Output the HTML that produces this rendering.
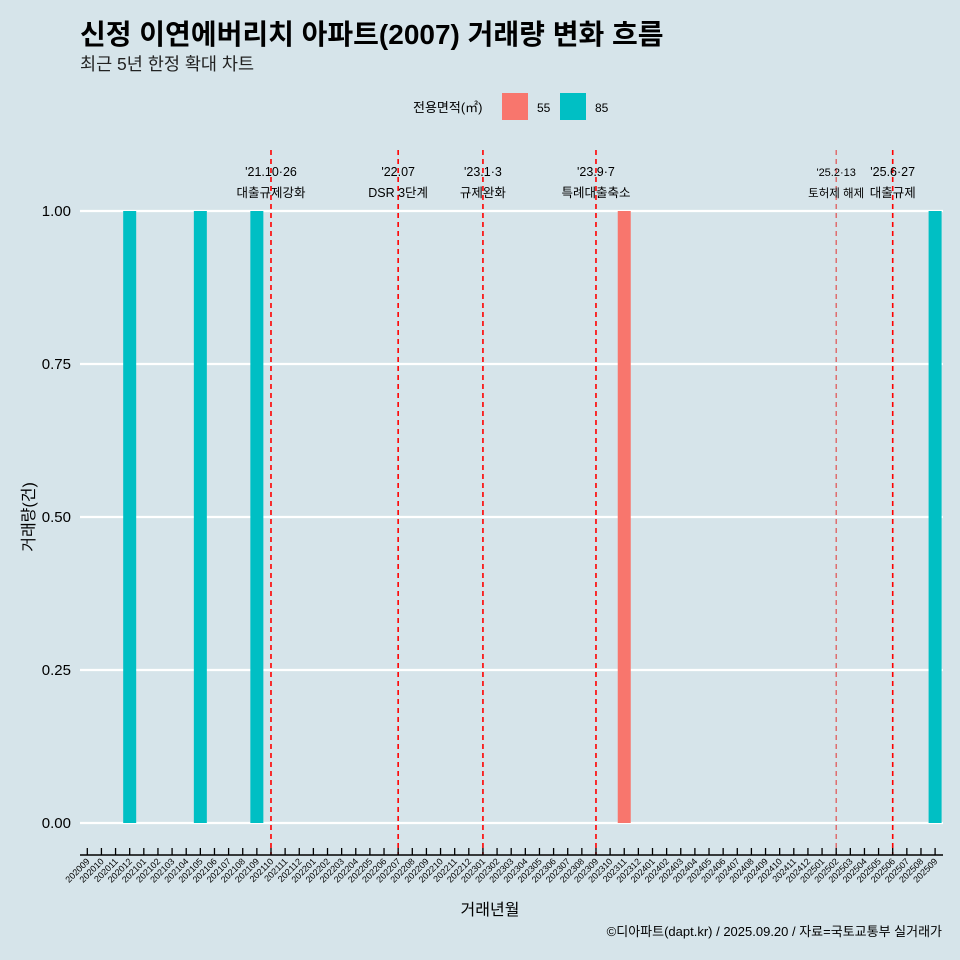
<!DOCTYPE html>
<html><head><meta charset="utf-8"><style>
body{margin:0;background:#d6e4ea;}
svg{display:block;font-family:"Liberation Sans","Noto Sans CJK KR",sans-serif;}
</style></head><body>
<svg id="c" width="960" height="960" xmlns="http://www.w3.org/2000/svg">
<rect width="960" height="960" fill="#d6e4ea"/>
<text x="80" y="44" font-size="28" font-weight="bold" fill="#000">신정 이연에버리치 아파트(2007) 거래량 변화 흐름</text>
<text x="80" y="70" font-size="17.5" fill="#222">최근 5년 한정 확대 차트</text>
<g>
<text x="413" y="112" font-size="13">전용면적(㎡)</text>
<rect x="502" y="93" width="26" height="27" fill="#f8766d"/>
<text x="537" y="112" font-size="12">55</text>
<rect x="560" y="93" width="26" height="27" fill="#00bfc4"/>
<text x="595" y="112" font-size="12">85</text>
</g>
<g id="grid"></g><g id="bars"></g><g id="vl"></g><g id="ax"></g>
<text x="490" y="915" font-size="16" text-anchor="middle">거래년월</text>
<text transform="translate(34,517) rotate(-90)" font-size="16" text-anchor="middle">거래량(건)</text>
<text x="942" y="936" font-size="13" text-anchor="end">©디아파트(dapt.kr) / 2025.09.20 / 자료=국토교통부 실거래가</text>
</svg>
<script>
const months=[];for(let y=2020,m=9;months.length<61;){months.push(y+String(m).padStart(2,'0'));m++;if(m>12){m=1;y++;}}
const barMonths=["202012","202105","202109","202311","202509"];
const barValues=[1,1,1,1,1];
const barSizes=["85","85","85","55","85"];
const yTicks=[0,0.25,0.5,0.75,1];
const yTickLabels=["0.00","0.25","0.50","0.75","1.00"];
const evMonths=["202110","202207","202301","202309","202502","202506"];
const evLine1=["'21.10·26","'22.07","'23.1·3","'23.9·7","'25.2·13","'25.6·27"];
const evLine2=["대출규제강화","DSR 3단계","규제완화","특례대출축소","토허제 해제","대출규제"];
const NS="http://www.w3.org/2000/svg";
const X=m=>87.3+months.indexOf(m)*14.13;
const Y=v=>823-v*612;
function mk(t,a,p,txt){const e=document.createElementNS(NS,t);for(const k in a)e.setAttribute(k,a[k]);if(txt!==undefined)e.textContent=txt;document.getElementById(p).appendChild(e);return e;}
yTicks.forEach((v,i)=>{
 let l=mk('line',{x1:80,x2:943,y1:Y(v),y2:Y(v),stroke:'#fff','stroke-width':2.2},'grid');
 
 
 let t=mk('text',{x:71,y:Y(v)+5,'font-size':15,'text-anchor':'end'},'grid',yTickLabels[i]);
 
 
});
barMonths.forEach((m,i)=>{
 let r=mk('rect',{x:X(m)-6.5,width:13,y:Y(barValues[i]),height:Y(0)-Y(barValues[i]),fill:barSizes[i]==="55"?'#f8766d':'#00bfc4'},'bars');
 
 
});
evMonths.forEach((m,i)=>{
 const x=X(m),small=m==="202502";
 let l=mk('line',{x1:x,x2:x,y1:150,y2:855,stroke:small?'#e05050':'#f00','stroke-width':small?1.2:1.6,'stroke-dasharray':'5,4'},'vl');
 
 
 let t1=mk('text',{x:x,y:176,'font-size':small?11:12.5,'text-anchor':'middle'},'vl',evLine1[i]);
 
 
 let t2=mk('text',{x:x,y:197,'font-size':small?11.5:12.5,'text-anchor':'middle'},'vl',evLine2[i]);
 
 
});
let ax=mk('line',{x1:80,x2:943,y1:855,y2:855,stroke:'#000','stroke-width':1.5},'ax');


months.forEach(m=>{
 const x=X(m);
 let t=mk('line',{x1:x,x2:x,y1:848,y2:855,stroke:'#000','stroke-width':1.3},'ax');
 
 
 let l=mk('text',{transform:`translate(${x+3},862) rotate(-45)`,'font-size':9,'text-anchor':'end'},'ax',m);
 
 
});
</script>
</body></html>
